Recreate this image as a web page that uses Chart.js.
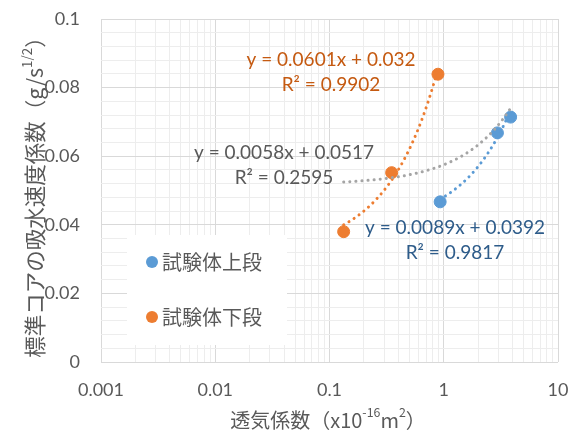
<!DOCTYPE html>
<html>
<head>
<meta charset="utf-8">
<script src="https://cdn.jsdelivr.net/npm/chart.js@4.4.0/dist/chart.umd.min.js"></script>
<style>
  html, body { margin: 0; padding: 0; background: #fff; }
  #wrap { width: 573px; height: 434px; position: relative; }
</style>
</head>
<body>
<div id="wrap"><canvas id="chart" width="573" height="434"></canvas></div>
<script>
// measured points
const upperX = [0.93, 2.95, 3.85];
const upperY = [0.0467, 0.0668, 0.0714];
const lowerX = [0.133, 0.35, 0.89];
const lowerY = [0.0380, 0.0552, 0.0839];
const seriesNames = ['試験体上段', '試験体下段'];

// trendlines as printed on the chart: y = a*x + b
const upperFit = [0.0089, 0.0392];
const lowerFit = [0.0601, 0.032];
const allFit = [0.0058, 0.0517];
const upperFitText = ['y = 0.0089x + 0.0392', 'R² = 0.9817'];
const lowerFitText = ['y = 0.0601x + 0.032', 'R² = 0.9902'];
const allFitText = ['y = 0.0058x + 0.0517', 'R² = 0.2595'];

const xTickLabels = ['0.001', '0.01', '0.1', '1', '10'];
const yTickLabels = ['0', '0.02', '0.04', '0.06', '0.08', '0.1'];

const BLUE = '#5B9BD5', ORANGE = '#ED7D31', GRAY = '#A5A5A5';
const TXT = '#595959';
const LATIN = 'Lato, "Noto Sans CJK JP", sans-serif';
const CJK = '"Noto Sans CJK JP", sans-serif';

function fitLine(coef, xs) {
  const lo = Math.log10(Math.min(...xs)), hi = Math.log10(Math.max(...xs));
  const pts = [];
  for (let i = 0; i <= 60; i++) {
    const x = Math.pow(10, lo + (hi - lo) * i / 60);
    pts.push({x: x, y: coef[0] * x + coef[1]});
  }
  return pts;
}

const toPts = (xs, ys) => xs.map((x, i) => ({x: x, y: ys[i]}));

function trendSet(data, color) {
  return {
    type: 'line', data: data, borderColor: color, borderWidth: 3,
    borderDash: [0.1, 6], borderCapStyle: 'round', pointRadius: 0,
    fill: false, tension: 0
  };
}

// minor grid steps
const xMajors = xTickLabels.map(Number);
const xTicks = [];
xMajors.forEach((m, i) => {
  if (i === xMajors.length - 1) { xTicks.push(m); return; }
  for (let k = 1; k <= 9; k++) xTicks.push(+(m * k).toPrecision(3));
});
const yMajors = yTickLabels.map(Number);
const yTicks = [];
for (let i = 0; i <= 25; i++) yTicks.push(+(i * 0.004).toFixed(3));

const isMajor = (v, list) => list.some(m => Math.abs(m - v) < 1e-9);

function drawRich(ctx, parts, size, x, y) {
  // parts: [text, isSuperscript]
  let total = 0;
  parts.forEach(p => {
    ctx.font = (p[1] ? size * 0.62 : size) + 'px ' + CJK;
    total += ctx.measureText(p[0]).width;
  });
  let cx = x - total / 2;
  parts.forEach(p => {
    ctx.font = (p[1] ? size * 0.62 : size) + 'px ' + CJK;
    ctx.fillText(p[0], cx, p[1] ? y - size * 0.38 : y);
    cx += ctx.measureText(p[0]).width;
  });
}

const extras = {
  id: 'extras',
  afterDatasetsDraw(chart) {
    const ctx = chart.ctx;
    ctx.save();
    ctx.textBaseline = 'middle';

    // trendline labels
    ctx.textAlign = 'center';
    ctx.font = '19px ' + LATIN;
    [[lowerFitText, '#C55A11', 331, 60], [allFitText, TXT, 284, 153], [upperFitText, '#2E5C8A', 455, 228]]
      .forEach(l => {
        ctx.fillStyle = l[1];
        ctx.fillText(l[0][0], l[2], l[3]);
        ctx.fillText(l[0][1], l[2], l[3] + 25);
      });

    // legend
    ctx.fillStyle = '#fff';
    ctx.fillRect(127, 235, 160, 110);
    [[BLUE, 262], [ORANGE, 317]].forEach((m, i) => {
      ctx.fillStyle = m[0];
      ctx.beginPath();
      ctx.arc(152, m[1], 6, 0, Math.PI * 2);
      ctx.fill();
      ctx.fillStyle = TXT;
      ctx.textAlign = 'left';
      ctx.font = '20px ' + CJK;
      ctx.fillText(seriesNames[i], 162, m[1]);
    });

    // axis titles
    ctx.fillStyle = TXT;
    ctx.textAlign = 'left';
    drawRich(ctx, [['透気係数（x10', false], ['-16', true], ['m', false], ['2', true], ['）', false]], 20, 328, 420);
    ctx.translate(35, 192);
    ctx.rotate(-Math.PI / 2);
    drawRich(ctx, [['標準コアの吸水速度係数（g/s', false], ['1/2', true], ['）', false]], 21.5, 0, 0);
    ctx.restore();
  }
};

new Chart(document.getElementById('chart'), {
  type: 'scatter',
  data: {
    datasets: [
      trendSet(fitLine(allFit, upperX.concat(lowerX)), GRAY),
      trendSet(fitLine(upperFit, upperX), BLUE),
      trendSet(fitLine(lowerFit, lowerX), ORANGE),
      {label: seriesNames[0], data: toPts(upperX, upperY), backgroundColor: BLUE, borderColor: BLUE, pointRadius: 6, pointHoverRadius: 6},
      {label: seriesNames[1], data: toPts(lowerX, lowerY), backgroundColor: ORANGE, borderColor: ORANGE, pointRadius: 6, pointHoverRadius: 6}
    ]
  },
  options: {
    responsive: false,
    animation: false,
    layout: {padding: {top: 19, right: 15, left: 0, bottom: 0}},
    scales: {
      x: {
        type: 'logarithmic',
        min: 0.001,
        max: 10,
        afterBuildTicks: s => { s.ticks = xTicks.map(v => ({value: v})); },
        afterFit: s => { s.height = 72; },
        border: {display: false},
        grid: {
          drawTicks: true,
          tickLength: 17,
          tickColor: 'rgba(0,0,0,0)',
          color: c => isMajor(c.tick.value, xMajors) ? '#D9D9D9' : '#EDEDED'
        },
        ticks: {
          autoSkip: false,
          maxRotation: 0,
          padding: 0,
          color: TXT,
          font: {size: 18, family: LATIN},
          callback: v => {
            const i = xMajors.findIndex(m => Math.abs(m - v) < 1e-12);
            return i >= 0 ? xTickLabels[i] : '';
          }
        }
      },
      y: {
        min: 0,
        max: 0.1,
        afterBuildTicks: s => { s.ticks = yTicks.map(v => ({value: v})); },
        afterFit: s => { s.width = 101; },
        border: {display: false},
        grid: {
          drawTicks: true,
          tickLength: 21,
          tickColor: 'rgba(0,0,0,0)',
          color: c => isMajor(c.tick.value, yMajors) ? '#D9D9D9' : '#EDEDED'
        },
        ticks: {
          autoSkip: false,
          padding: 0,
          color: TXT,
          font: {size: 18, family: LATIN},
          callback: v => {
            const i = yMajors.findIndex(m => Math.abs(m - v) < 1e-9);
            return i >= 0 ? yTickLabels[i] : '';
          }
        }
      }
    },
    plugins: {
      legend: {display: false},
      tooltip: {enabled: false}
    }
  },
  plugins: [extras]
});
</script>
</body>
</html>
